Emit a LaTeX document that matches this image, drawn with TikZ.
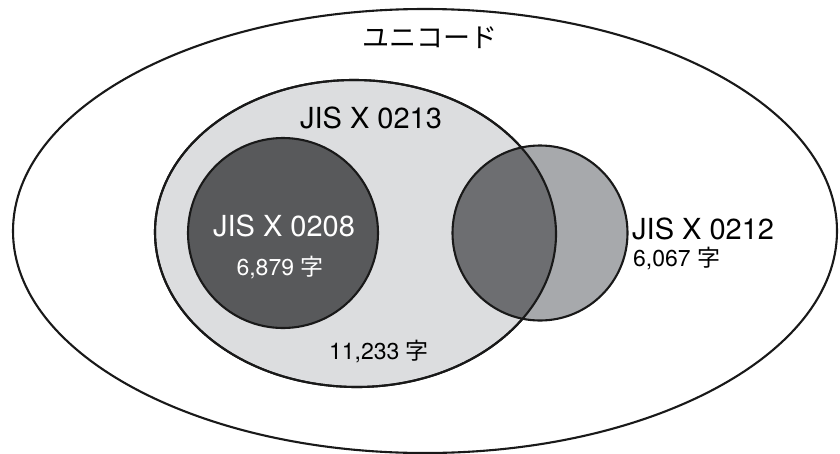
\documentclass[tikz,border=0pt]{standalone}
\usepackage{fontspec}
\setmainfont{TeX Gyre Heros}
\newfontfamily\cjk{Noto Sans CJK JP}
\definecolor{setlight}{HTML}{DCDDDF}
\definecolor{setdark}{HTML}{58595B}
\definecolor{setmid}{HTML}{A7A9AC}
\definecolor{setover}{HTML}{6D6E71}
\tikzset{
  rim/.style={draw=black!90, line width=2.1pt},
  bigtitle/.style={inner sep=0pt, font=\fontsize{29}{29}\selectfont},
  count/.style={inner sep=0pt, font=\fontsize{23}{23}\selectfont},
  % outline of the JIS X 0213 set: four quarter arcs, a little fuller below
  jisblob/.style={insert path={
    (556,234) .. controls (556,318) and (467,387) .. (357,387)
              .. controls (245,387) and (155,318) .. (155,232)
              .. controls (155,148) and (244,80) .. (354,80)
              .. controls (466,80) and (556,149) .. (556,234) -- cycle}},
}
\begin{document}
\begin{tikzpicture}[x=1pt,y=-1pt]
  \useasboundingbox (0,0) rectangle (840,453);
  % Unicode: outer ellipse
  \path[rim, fill=white] (425,231) ellipse [x radius=412pt, y radius=222pt];
  % JIS X 0213
  \path[rim, fill=setlight, jisblob];
  % JIS X 0208
  \path[rim, fill=setdark] (283,233) circle (95pt);
  % JIS X 0212 and its overlap with JIS X 0213
  \fill[setmid] (540,233) circle (87.5pt);
  \begin{scope}
    \clip[jisblob];
    \fill[setover] (540,233) circle (87.5pt);
  \end{scope}
  \draw[rim] (540,233) circle (87.5pt);
  \draw[rim, jisblob];

  % labels
  \node[inner sep=0pt, font=\cjk\fontsize{27}{27}\selectfont] (uni) at (430,38) {ユニコード};
  \node[bigtitle, anchor=base] (l0213) at (371,128) {JIS X 0213};
  \node[bigtitle, anchor=base, text=white] (l0208) at (284,236) {JIS X 0208};
  \node[count, anchor=base, text=white] (n0208) at (280,275) {6,879 {\cjk 字}};
  \node[count, anchor=base] (n0213) at (379,359) {11,233 {\cjk 字}};
  \node[bigtitle, anchor=base west] (l0212) at (632,239) {JIS X 0212};
  \node[count, anchor=base west] (n0212) at (633,266) {6,067 {\cjk 字}};
\end{tikzpicture}
\end{document}
